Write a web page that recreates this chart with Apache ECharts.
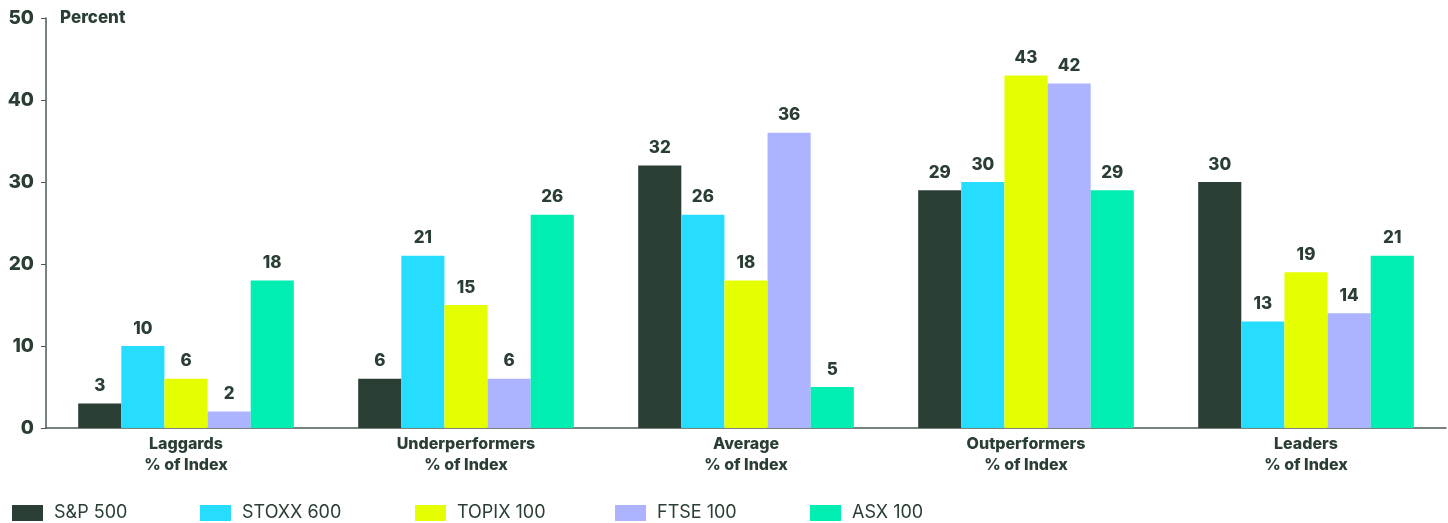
<!DOCTYPE html>
<html>
<head>
<meta charset="utf-8">
<script src="https://cdn.jsdelivr.net/npm/echarts@6/dist/echarts.min.js"></script>
<style>
  html, body { margin: 0; padding: 0; background: #fff; }
  #chart { width: 1448px; height: 523px; }
</style>
</head>
<body>
<div id="chart"></div>
<script>
// categories and series values
var categories = ['Laggards\n% of Index', 'Underperformers\n% of Index', 'Average\n% of Index', 'Outperformers\n% of Index', 'Leaders\n% of Index']
var seriesNames = ['S&P 500', 'STOXX 600', 'TOPIX 100', 'FTSE 100', 'ASX 100']
var sp500 = [3, 6, 32, 29, 30]
var stoxx600 = [10, 21, 26, 30, 13]
var topix100 = [6, 15, 18, 43, 19]
var ftse100 = [2, 6, 36, 42, 14]
var asx100 = [18, 26, 5, 29, 21]
var yTicks = [0, 10, 20, 30, 40, 50]

var colors = ['#2a3e33', '#27ddff', '#e5ff00', '#adb3ff', '#00eeb1']
var textColor = '#2a3e33'
var font = 'Inter'

var myChart = echarts.init(document.getElementById('chart'))

var values = [sp500, stoxx600, topix100, ftse100, asx100]
var series = []
for (var i = 0; i < seriesNames.length; i++) {
  series.push({
    name: seriesNames[i],
    type: 'bar',
    data: values[i],
    barGap: '0%',
    barCategoryGap: '23%',
    itemStyle: { color: colors[i] },
    label: {
      show: true,
      position: 'top',
      distance: 9,
      color: textColor,
      fontFamily: font,
      fontWeight: 800,
      fontSize: 17
    }
  })
}

var legendLefts = [7, 195, 410, 610, 805]
var legends = []
for (var j = 0; j < seriesNames.length; j++) {
  legends.push({
    data: [seriesNames[j]],
    left: legendLefts[j],
    top: 499,
    itemWidth: 31,
    itemHeight: 16,
    itemGap: 0,
    icon: 'rect',
    selectedMode: false,
    textStyle: { color: textColor, fontFamily: font, fontSize: 18, padding: [0, 0, 0, 6] }
  })
}

var option = {
  animation: false,
  color: colors,
  grid: { left: 46, right: 2, top: 18, bottom: 95, containLabel: false },
  legend: legends,
  graphic: [{
    type: 'text',
    left: 60,
    top: 9,
    style: { text: 'Percent', fill: textColor, font: '800 17px Inter' }
  }],
  xAxis: {
    type: 'category',
    data: categories,
    axisLine: { lineStyle: { color: '#4a5a50', width: 1.5 } },
    axisTick: { show: false },
    axisLabel: {
      color: textColor,
      fontFamily: font,
      fontWeight: 800,
      fontSize: 16,
      lineHeight: 21,
      margin: 6
    }
  },
  yAxis: {
    type: 'value',
    min: yTicks[0],
    max: yTicks[yTicks.length - 1],
    interval: 10,
    splitLine: { show: false },
    axisLine: { show: true, lineStyle: { color: '#4a5a50', width: 1.5 } },
    axisTick: { show: true, length: 5, lineStyle: { color: '#4a5a50' } },
    axisLabel: {
      color: textColor,
      fontFamily: font,
      fontWeight: 800,
      fontSize: 19,
      margin: 12
    }
  },
  series: series
}

myChart.setOption(option)
</script>
</body>
</html>
